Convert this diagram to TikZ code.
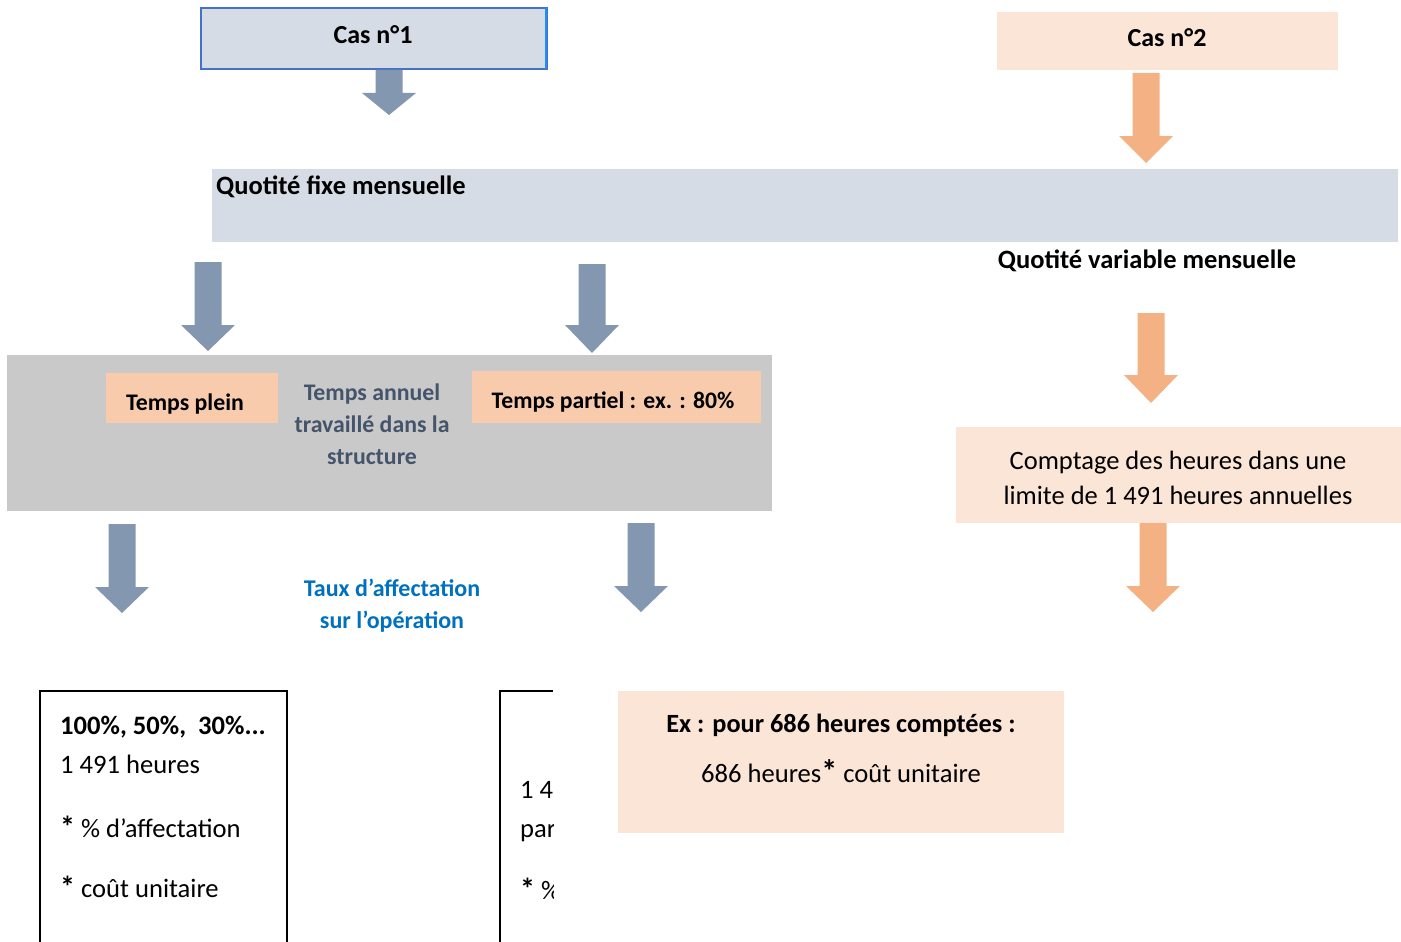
\documentclass[tikz,border=0pt]{standalone}
\usepackage{fontspec}
\setmainfont{Carlito}
\definecolor{bluegray}{HTML}{8497B0}
\definecolor{orangearr}{HTML}{F4B183}
\definecolor{lightblue}{HTML}{D6DCE5}
\definecolor{borderblue}{HTML}{4472C4}
\definecolor{brightblue}{HTML}{1F8FFF}
\definecolor{graybox}{HTML}{C9C9C9}
\definecolor{peach}{HTML}{F8CBAD}
\definecolor{lightpeach}{HTML}{FBE5D6}
\definecolor{slatetext}{HTML}{44546A}
\definecolor{bluetext}{HTML}{0070C0}
\newcommand{\blockarrow}[5]{%
  \fill[#1] (#2-13.5,#3) -- (#2+13.5,#3) -- (#2+13.5,#4) -- (#2+27,#4) -- (#2,#5) -- (#2-27,#4) -- (#2-13.5,#4) -- cycle;}
\newcommand{\bigast}{{\bfseries\fontsize{30}{30}\selectfont *}}
\tikzset{
  box/.style={anchor=north west, inner sep=0pt, outer sep=0pt},
  txt/.style={inner sep=0pt, align=center},
}
\begin{document}
\begin{tikzpicture}[x=1pt,y=-1pt]
\useasboundingbox (0,0) rectangle (1401,942);
% Cas n1
\node[box, fill=lightblue, draw=borderblue, line width=1.5pt, minimum width=346, minimum height=61] (cas1) at (201,8) {};
\draw[brightblue, line width=2.5pt] (546,8) -- (546,69);
\node[txt, font=\fontsize{26}{30}\selectfont\bfseries] at (373,35) {Cas n°1};
\blockarrow{bluegray}{389}{70}{93}{115}
% Cas n2
\node[box, fill=lightpeach, minimum width=341, minimum height=58] (cas2) at (997,12) {};
\node[txt, font=\fontsize{26}{30}\selectfont\bfseries] at (1167,38) {Cas n°2};
\blockarrow{orangearr}{1146}{73}{136}{163}
% band
\node[box, fill=lightblue, minimum width=1186, minimum height=73] (band) at (212,169) {};
\node[txt, anchor=west, font=\fontsize{26.5}{30}\selectfont\bfseries] (fixe) at (216,187) {Quotité fixe mensuelle};
\node[txt, font=\fontsize{26.5}{30}\selectfont\bfseries] (var) at (1147,261) {Quotité variable mensuelle};
% gray arrows
\blockarrow{bluegray}{208}{262}{325}{351}
\blockarrow{bluegray}{592}{264}{325}{353}
% gray box
\node[box, fill=graybox, minimum width=765, minimum height=156] (gbox) at (7,355) {};
\node[box, fill=peach, minimum width=172, minimum height=50] (plein) at (106,373) {};
\node[txt, font=\fontsize{23.8}{28}\selectfont\bfseries] at (185,404) {Temps plein};
\node[box, fill=peach, minimum width=289, minimum height=52] (partiel) at (472,371) {};
\node[txt, font=\fontsize{23.7}{28}\selectfont\bfseries] at (613,402) {Temps partiel : ex. : 80\%};
\node[txt, text=slatetext, font=\fontsize{23.8}{32}\selectfont\bfseries] (annuel) at (372,424) {Temps annuel\\travaillé dans la\\structure};
% arrows below
\blockarrow{bluegray}{122}{524}{587}{613}
\blockarrow{bluegray}{641}{523}{586}{612}
\node[txt, text=bluetext, font=\fontsize{24}{32}\selectfont\bfseries] (taux) at (392,606) {Taux d’affectation\\sur l’opération};
% right column
\blockarrow{orangearr}{1151}{313}{375}{403}
\node[box, fill=lightpeach, minimum width=445, minimum height=96] (compt) at (956,427) {};
\node[txt, font=\fontsize{26.5}{35}\selectfont] at (1178,478) {Comptage des heures dans une\\limite de 1 491 heures annuelles};
\blockarrow{orangearr}{1153}{523}{586}{612}
% bottom left box
\draw[black, line width=2pt] (40,945) -- (40,691) -- (287,691) -- (287,945);
\node[txt, anchor=base west, font=\fontsize{26.6}{30}\selectfont\bfseries] at (60,734) {100\%, 50\%,\ \ 30\%...};
\node[txt, anchor=base west, font=\fontsize{26.6}{30}\selectfont] at (60,773) {1 491 heures};
\node[txt, anchor=base west, font=\fontsize{26.6}{30}\selectfont] at (60,837) {\bigast\ \% d’affectation};
\node[txt, anchor=base west, font=\fontsize{26.6}{30}\selectfont] at (60,897) {\bigast\ coût unitaire};
% middle clipped box
\draw[black, line width=2pt] (500,945) -- (500,691) -- (553,691);
\begin{scope}
\clip (490,680) rectangle (553,942);
\node[txt, anchor=base west, font=\fontsize{26.6}{30}\selectfont] at (520,798) {1 491 heures};
\node[txt, anchor=base west, font=\fontsize{26.6}{30}\selectfont] at (520,837) {partiel};
\node[txt, anchor=base west, font=\fontsize{26.6}{30}\selectfont] at (520,899) {\bigast\ \% d’affectation};
\end{scope}
% Ex box
\node[box, fill=lightpeach, minimum width=446, minimum height=142] (ex) at (618,691) {};
\node[txt, font=\fontsize{26.3}{30}\selectfont\bfseries] at (841,725) {Ex : pour 686 heures comptées :};
\node[txt, font=\fontsize{26.6}{30}\selectfont] at (841,771) {686 heures{\bfseries\fontsize{32}{32}\selectfont *} coût unitaire};
\end{tikzpicture}
\end{document}
